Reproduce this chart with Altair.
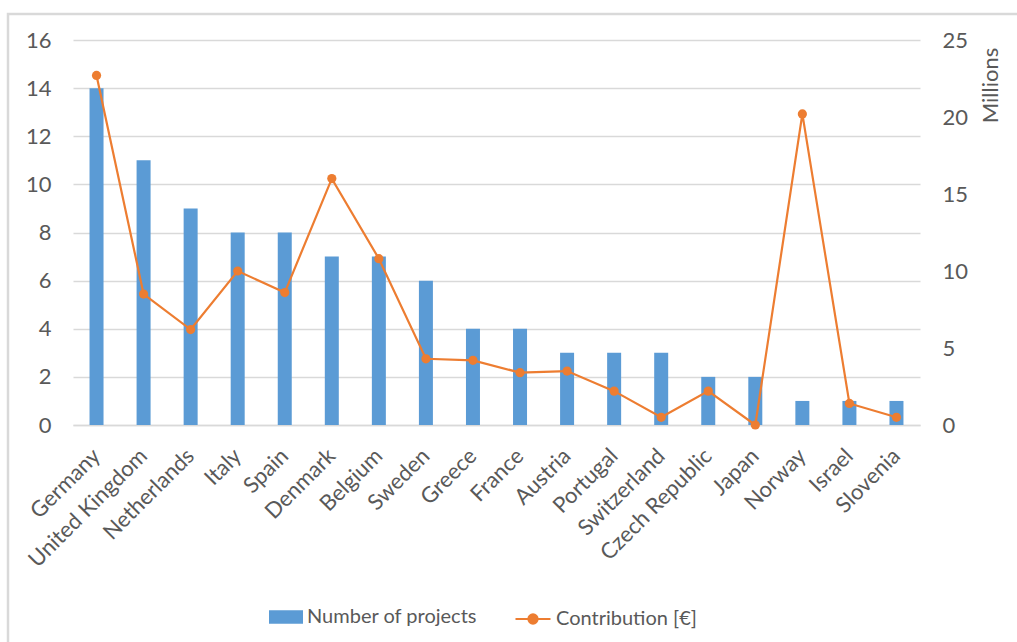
import altair as alt
import pandas as pd

# Countries, number of funded projects and contribution (in millions of euro)
countries = [
    "Germany", "United Kingdom", "Netherlands", "Italy", "Spain", "Denmark",
    "Belgium", "Sweden", "Greece", "France", "Austria", "Portugal",
    "Switzerland", "Czech Republic", "Japan", "Norway", "Israel", "Slovenia",
]
projects = [14, 11, 9, 8, 8, 7, 7, 6, 4, 4, 3, 3, 3, 2, 2, 1, 1, 1]
contribution_millions = [22.7, 8.5, 6.2, 10.0, 8.6, 16.0, 10.8, 4.3, 4.2,
                         3.4, 3.5, 2.2, 0.5, 2.2, 0.0, 20.2, 1.4, 0.5]

left_ticks = [0, 2, 4, 6, 8, 10, 12, 14, 16]
right_ticks = [0, 5, 10, 15, 20, 25]

BAR_LABEL = "Number of projects"
LINE_LABEL = "Contribution [€]"
BLUE = "#5B9BD5"
ORANGE = "#ED7D31"
GRID = "#D9D9D9"
TEXT = "#595959"
FONT = "Lato"

df = pd.DataFrame({
    "country": countries,
    "projects": projects,
    "contribution": contribution_millions,
    "bar_series": BAR_LABEL,
    "line_series": LINE_LABEL,
})

x_enc = alt.X(
    "country:N",
    sort=countries,
    scale=alt.Scale(paddingInner=0, paddingOuter=0),
    axis=alt.Axis(
        title=None, labelAngle=315, labelAlign="right", labelBaseline="middle",
        labelPadding=27, ticks=False, domainColor=GRID, domainWidth=1.5,
        labelFontSize=22, labelColor=TEXT, labelFont=FONT, labelOverlap=False,
        labelLimit=300,
    ),
)

bars = alt.Chart(df).mark_bar(size=14, color=BLUE).encode(
    x=x_enc,
    y=alt.Y(
        "projects:Q",
        scale=alt.Scale(domain=[0, 16], nice=False),
        axis=alt.Axis(
            title=None, values=left_ticks, orient="left", ticks=False,
            domain=False, grid=True, gridColor=GRID, gridWidth=1.5,
            labelPadding=22, labelFontSize=22, labelColor=TEXT, labelFont=FONT,
        ),
    ),
    color=alt.Color(
        "bar_series:N",
        scale=alt.Scale(domain=[BAR_LABEL], range=[BLUE]),
        legend=alt.Legend(
            title=None, orient="none", legendX=196, legendY=560,
            symbolType="M-1,-0.4H1V0.4H-1Z", symbolSize=1156,
            symbolStrokeWidth=0, labelFontSize=20, labelColor=TEXT,
            labelFont=FONT, labelOffset=4, labelLimit=400,
        ),
    ),
)

y_right = alt.Y(
    "contribution:Q",
    scale=alt.Scale(domain=[0, 25], nice=False),
    axis=alt.Axis(
        title="Millions", values=right_ticks, orient="right", ticks=False,
        domain=False, grid=False, labelPadding=22, labelFontSize=22,
        labelColor=TEXT, labelFont=FONT, titleFont=FONT, titleFontSize=22,
        titleFontWeight="normal", titleColor=TEXT, titleAngle=270,
        titleAlign="center", titleBaseline="middle", titleX=70, titleY=45,
    ),
)

line = alt.Chart(df).mark_line(color=ORANGE, strokeWidth=2.2).encode(
    x=alt.X("country:N", sort=countries),
    y=y_right,
)

points = alt.Chart(df).mark_point(filled=True, size=85, opacity=1).encode(
    x=alt.X("country:N", sort=countries),
    y=y_right,
    color=alt.Color(
        "line_series:N",
        scale=alt.Scale(domain=[LINE_LABEL], range=[ORANGE]),
        legend=alt.Legend(
            title=None, orient="none", legendX=441, legendY=560,
            symbolType="M-1,0H1M0.26,0A0.26,0.26 0 1,1 -0.26,0A0.26,0.26 0 1,1 0.26,0Z",
            symbolSize=1225, symbolStrokeColor=ORANGE, symbolStrokeWidth=2.2,
            labelFontSize=20, labelColor=TEXT, labelFont=FONT, labelOffset=4,
            labelLimit=400,
        ),
    ),
)

# Light grey border around the whole chart area
frame = alt.Chart(pd.DataFrame({"k": [0]})).mark_rect(
    fillOpacity=0, stroke=GRID, strokeWidth=2.5
).encode(
    x=alt.value(-65), x2=alt.value(980),
    y=alt.value(-26), y2=alt.value(640),
)

chart = (
    alt.layer(frame, bars, alt.layer(line, points))
    .resolve_scale(y="independent", color="independent")
    .properties(
        width=847, height=385,
        autosize=alt.AutoSizeParams(type="none"),
        padding={"left": 73, "top": 40, "right": 97, "bottom": 217},
        background="white",
    )
    .configure_view(stroke=None)
)

chart.save("out.html", embed_options={"renderer": "svg", "actions": False})
